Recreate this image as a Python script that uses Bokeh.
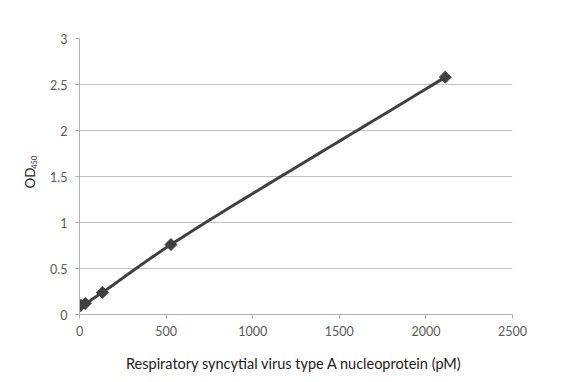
import numpy as np
from bokeh.plotting import figure
from bokeh.layouts import row
from bokeh.models import Range1d, FixedTicker, ColumnDataSource
from bokeh.core.properties import value
from bokeh.embed import file_html
from bokeh.resources import INLINE

# Data
conc_pM = [0, 8.25, 33, 132, 528, 2112]
od450 = [0.09, 0.10, 0.12, 0.24, 0.76, 2.58]
x_ticks = [0, 500, 1000, 1500, 2000, 2500]
y_ticks = [0, 0.5, 1, 1.5, 2, 2.5, 3]
y_tick_labels = {0: "0", 0.5: "0.5", 1: "1", 1.5: "1.5", 2: "2", 2.5: "2.5", 3: "3"}
x_label = "Respiratory syncytial virus type A nucleoprotein  (pM)"
y_label_main = "OD"
y_label_sub = "450"

FONT = "Lato"
GRAY = "#404040"

TOTAL_W, TOTAL_H = 580, 380
LW = 46  # width of the strip holding the y title
FRAME_W, FRAME_H = 433, 276
LEFT, TOP = 79, 38
BOTTOM = TOTAL_H - TOP - FRAME_H

# ---- strip with rotated y title (shares the y scale of the chart) ----
lf = figure(width=LW, height=TOTAL_H, output_backend="svg", toolbar_location=None,
            x_range=Range1d(0, LW), y_range=Range1d(0, 3),
            x_axis_location=None, y_axis_location=None,
            min_border_left=0, min_border_right=0,
            min_border_top=TOP, min_border_bottom=BOTTOM)
lf.outline_line_color = None
lf.xgrid.visible = False
lf.ygrid.visible = False
lf.text(x=[29], y=[1.484], text=[y_label_main], angle=np.pi / 2,
        text_align="center", text_baseline="alphabetic",
        text_font=value(FONT), text_font_size="13.5px", text_color="#1a1a1a")
lf.text(x=[33], y=[1.655], text=[y_label_sub], angle=np.pi / 2,
        text_align="center", text_baseline="alphabetic",
        text_font=value(FONT), text_font_size="7.5px", text_color="#1a1a1a")

# ---- main chart ----
pw = TOTAL_W - LW
p = figure(width=pw, height=TOTAL_H, output_backend="svg", toolbar_location=None,
           x_range=Range1d(0, 2500), y_range=Range1d(0, 3),
           min_border_left=LEFT - LW, min_border_right=pw - (LEFT - LW) - FRAME_W,
           min_border_top=TOP, min_border_bottom=BOTTOM)
p.outline_line_color = None
p.xgrid.grid_line_color = None
p.ygrid.grid_line_color = "#c0c0c0"
p.ygrid.ticker = FixedTicker(ticks=y_ticks)

for ax in (p.xaxis, p.yaxis):
    ax.axis_line_color = "#b0b0b0"
    ax.major_tick_line_color = "#b0b0b0"
    ax.minor_tick_line_color = None
    ax.major_tick_in = 0
    ax.major_tick_out = 4
    ax.major_label_text_font = FONT
    ax.major_label_text_font_size = "12.5px"
    ax.major_label_text_color = "#595959"

p.xaxis.ticker = FixedTicker(ticks=x_ticks)
p.yaxis.ticker = FixedTicker(ticks=y_ticks)
p.yaxis.major_label_overrides = y_tick_labels
p.xaxis.major_label_standoff = 7
p.yaxis.major_label_standoff = 8

p.xaxis.axis_label = x_label
p.xaxis.axis_label_text_font = FONT
p.xaxis.axis_label_text_font_style = "normal"
p.xaxis.axis_label_text_font_size = "14.5px"
p.xaxis.axis_label_text_color = "#1a1a1a"
p.xaxis.axis_label_standoff = 16

# Smoothed curve: centripetal Catmull-Rom through the data points (pixel-proportional space)
sx = FRAME_W / 2500.0
sy = FRAME_H / 3.0
pts = np.column_stack([np.array(conc_pM, float) * sx, np.array(od450, float) * sy])
ext = np.vstack([2 * pts[0] - pts[1], pts, 2 * pts[-1] - pts[-2]])
curve = []
for i in range(1, len(ext) - 2):
    P0, P1, P2, P3 = ext[i - 1], ext[i], ext[i + 1], ext[i + 2]
    t0 = 0.0
    t1 = t0 + np.linalg.norm(P1 - P0) ** 0.5
    t2 = t1 + np.linalg.norm(P2 - P1) ** 0.5
    t3 = t2 + np.linalg.norm(P3 - P2) ** 0.5
    for t in np.linspace(t1, t2, 40, endpoint=False):
        A1 = (t1 - t) / (t1 - t0) * P0 + (t - t0) / (t1 - t0) * P1
        A2 = (t2 - t) / (t2 - t1) * P1 + (t - t1) / (t2 - t1) * P2
        A3 = (t3 - t) / (t3 - t2) * P2 + (t - t2) / (t3 - t2) * P3
        B1 = (t2 - t) / (t2 - t0) * A1 + (t - t0) / (t2 - t0) * A2
        B2 = (t3 - t) / (t3 - t1) * A2 + (t - t1) / (t3 - t1) * A3
        C = (t2 - t) / (t2 - t1) * B1 + (t - t1) / (t2 - t1) * B2
        curve.append(C)
curve.append(pts[-1])
curve = np.array(curve)
src_curve = ColumnDataSource(dict(x=curve[:, 0] / sx, y=curve[:, 1] / sy))

p.line("x", "y", source=src_curve, line_color=GRAY, line_width=3)
p.scatter(conc_pM, od450, marker="square", size=8.5, angle=np.pi / 4,
          fill_color=GRAY, line_color=GRAY, line_width=1)

layout = row(lf, p, spacing=0)
open("out.html", "w").write(file_html(layout, INLINE))
